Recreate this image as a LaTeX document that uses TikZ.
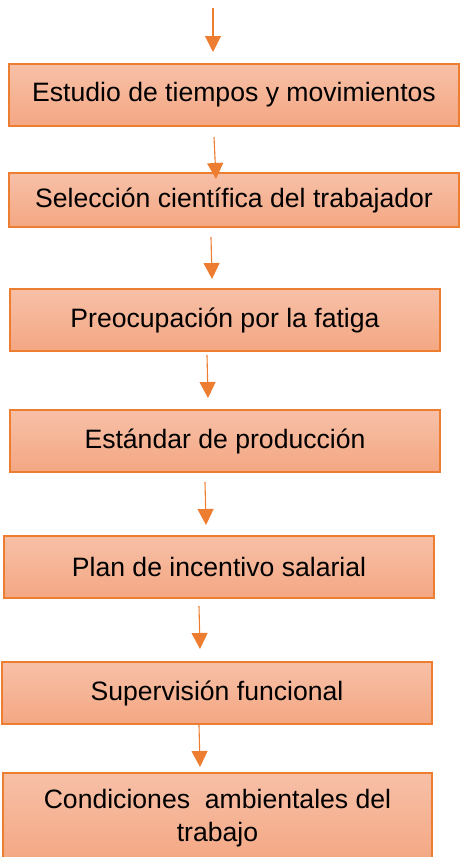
\documentclass[tikz,border=0pt]{standalone}
\usepackage{fontspec}
\setmainfont{Liberation Sans}
\usepackage{tikz}
\usetikzlibrary{arrows.meta}
\usepackage{xcolor}
\definecolor{ColLine}{RGB}{237,125,49}
\definecolor{ColTop}{RGB}{247,192,167}
\definecolor{ColBot}{RGB}{244,167,131}
\tikzstyle{StepBox}=[rectangle,draw=ColLine,line width=1.3pt,top color=ColTop,bottom color=ColBot,
inner sep=2pt,align=center,font=\fontsize{26.6}{33}\selectfont]
\tikzstyle{FlowArrow}=[ColLine,line width=1.1pt,-{Triangle[width=16pt,length=16pt]}]

\begin{document}
\begin{tikzpicture}[x=1pt,y=-1pt]
        \useasboundingbox(0,0)rectangle(460,857);
        \node[StepBox,minimum width=450pt,minimum height=62pt](b1)at(234,95){Estudio de tiempos y movimientos};
        \node[StepBox,minimum width=450pt,minimum height=54pt](b2)at(234,200){Selección científica del trabajador};
        \node[StepBox,minimum width=430pt,minimum height=62pt](b3)at(225,320){Preocupación por la fatiga};
        \node[StepBox,minimum width=430pt,minimum height=62pt](b4)at(225,441){Estándar de producción};
        \node[StepBox,minimum width=430pt,minimum height=62pt](b5)at(219,567){Plan de incentivo salarial};
        \node[StepBox,minimum width=430pt,minimum height=62pt](b6)at(217,693){Supervisión funcional};
        \node[StepBox,minimum width=429pt,minimum height=90pt](b7)at(217.5,818){Condiciones~ ambientales del\\trabajo};
        \coordinate(s1)at(213,8);   \coordinate(e1)at(213,52);
        \coordinate(s2)at(214,137); \coordinate(e2)at(216,179);
        \coordinate(s3)at(211,237); \coordinate(e3)at(212,279);
        \coordinate(s4)at(207,355); \coordinate(e4)at(208,398);
        \coordinate(s5)at(205,482); \coordinate(e5)at(206,525);
        \coordinate(s6)at(199,606); \coordinate(e6)at(200,649);
        \coordinate(s7)at(199,725); \coordinate(e7)at(200,767);
        \foreach \i in {1,...,7}
            \draw[FlowArrow](s\i)--(e\i);
    \end{tikzpicture}
\end{document}
